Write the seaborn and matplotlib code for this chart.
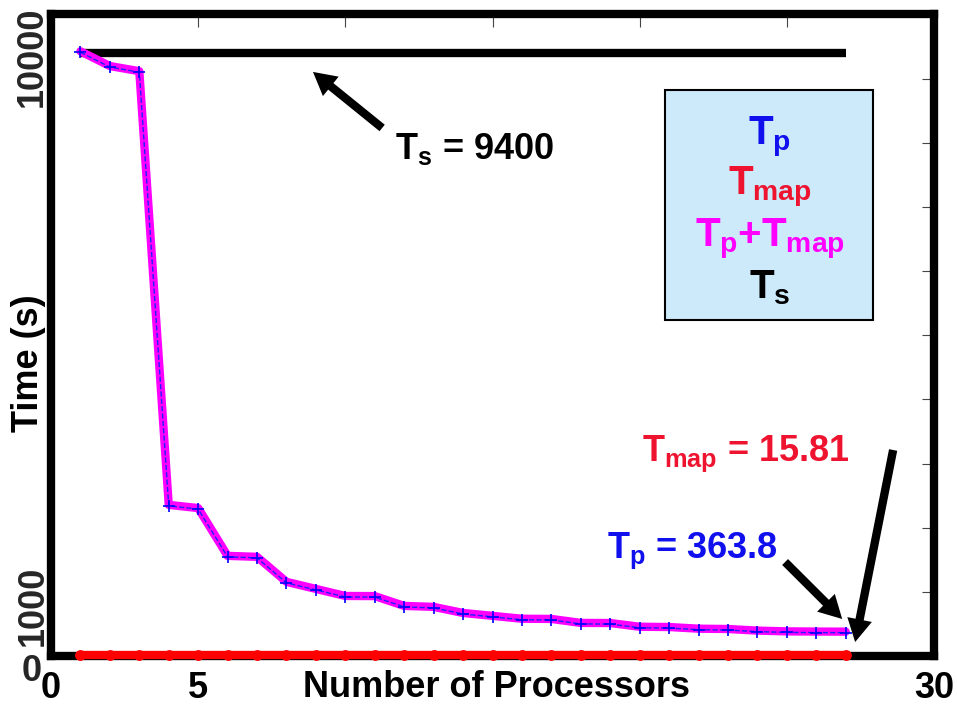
import numpy as np
import pandas as pd
import seaborn as sns
import matplotlib.pyplot as plt
from matplotlib.patches import Rectangle

# Values
procs = np.arange(1, 28)
t_p = [9410, 9180, 9100, 2340, 2290, 1545, 1530, 1140, 1030, 920, 918, 765, 750,
       655, 610, 565, 562, 500, 498, 440, 436, 410, 405, 380, 368, 365, 363.8]
t_map = [15.81] * 27
t_s = 9400

x_ticks = [0, 5, 10, 15, 20, 25, 30]
x_tick_labels = ['0', '5', '', '', '', '', '30']
y_ticks = [1000, 2000, 3000, 4000, 5000, 6000, 7000, 8000, 9000]

sns.set_style('white')
plt.rcParams['font.family'] = ['Liberation Sans', 'DejaVu Sans']
plt.rcParams['font.weight'] = 'bold'
plt.rcParams['axes.labelweight'] = 'bold'
plt.rcParams['mathtext.fontset'] = 'custom'
plt.rcParams['mathtext.rm'] = 'Liberation Sans:bold'
plt.rcParams['mathtext.it'] = 'Liberation Sans:bold'
plt.rcParams['mathtext.bf'] = 'Liberation Sans:bold'
plt.rcParams['mathtext.sf'] = 'Liberation Sans:bold'

df = pd.DataFrame({'procs': procs, 't_p': t_p, 't_map': t_map})
df['total'] = df['t_p'] + df['t_map']

fig = plt.figure(figsize=(9.57, 7.05), dpi=100)
ax = fig.add_axes([0.0533, 0.0695, 0.9227, 0.91])

# T_s reference line
ax.plot([procs[0], procs[-1]], [t_s, t_s], color='black', lw=6, solid_capstyle='butt', zorder=3)

# T_p + T_map (thick magenta), T_p (thin blue dashed with + markers)
sns.lineplot(data=df, x='procs', y='total', color='#ff00ff', lw=6, ax=ax, zorder=4)
sns.lineplot(data=df, x='procs', y='t_p', color='#2020ff', lw=1, ls='--', marker='+',
             markersize=9, markeredgewidth=1.2, markeredgecolor='#0000ff', ax=ax, zorder=5)
# T_map (red with circles, sits on the x axis)
sns.lineplot(data=df, x='procs', y='t_map', color='#ff0000', lw=6, marker='o',
             markersize=7, markeredgecolor='#ff0000', ax=ax, zorder=6, clip_on=False)

ax.set_xlim(0, 30)
ax.set_ylim(0, 10000)
ax.set_xticks(x_ticks, x_tick_labels)
ax.set_yticks(y_ticks, [''] * len(y_ticks))
ax.tick_params(direction='in', length=9, width=0.8, color='#444444', labelcolor='black',
               top=True, right=True, labelsize=26, pad=11)

for s in ax.spines.values():
    s.set_linewidth(6)
    s.set_color('black')

# y tick labels as in the original (rotated, offset)
ytf = ax.get_yaxis_transform()
ax.text(-0.022, -249, '0', transform=ytf, fontsize=26, ha='center', va='center')
ax.text(-0.020, 779, '1000', transform=ytf, fontsize=26, ha='center', va='center', rotation=90)
ax.text(-0.021, 9337, '10000', transform=ytf, fontsize=26, ha='center', va='center', rotation=90)

ax.set_xlabel('Number of Processors', fontsize=26, fontweight='bold', color='black')
ax.xaxis.set_label_coords(0.504, -0.022)
ax.set_ylabel('Time (s)', fontsize=26, fontweight='bold', color='black')
ax.yaxis.set_label_coords(-0.006, 0.457)

# annotations
arrow = dict(arrowstyle='simple,head_width=0.6,head_length=0.55,tail_width=0.2',
             mutation_scale=30, fc='black', ec='black', lw=0, shrinkA=0, shrinkB=0)
ax.annotate('', xy=(8.90, 9104), xytext=(11.25, 8231), arrowprops=arrow)
ax.annotate('', xy=(26.88, 577), xytext=(24.94, 1465), arrowprops=arrow)
ax.annotate('', xy=(27.32, 218), xytext=(28.61, 3211), arrowprops=arrow, annotation_clip=False)

ax.text(11.69, 7747, r'$T_s$ = 9400', fontsize=26, color='black', va='baseline', ha='left')
ax.text(18.89, 1528, r'$T_p$ = 363.8', fontsize=26, color='#1010ee', va='baseline', ha='left')
ax.text(20.08, 3040, r'$T_{map}$ = 15.81', fontsize=26, color='#ee1430', va='baseline', ha='left')

# legend box with coloured labels
ax.add_patch(Rectangle((0.695, 0.524), 0.2356, 0.3585, transform=ax.transAxes,
                       facecolor='#cceafa', edgecolor='black', lw=1.5, zorder=7))
legend_items = [(r'$T_p$', '#1010ee', 0.797), (r'$T_{map}$', '#ee1430', 0.719),
                (r'$T_p$+$T_{map}$', '#ff00ff', 0.638), (r'$T_s$', 'black', 0.558)]
for label, col, yy in legend_items:
    ax.text(0.814, yy, label, transform=ax.transAxes, fontsize=29, color=col,
            ha='center', va='baseline', zorder=8)

fig.savefig('out.png', dpi=100)
